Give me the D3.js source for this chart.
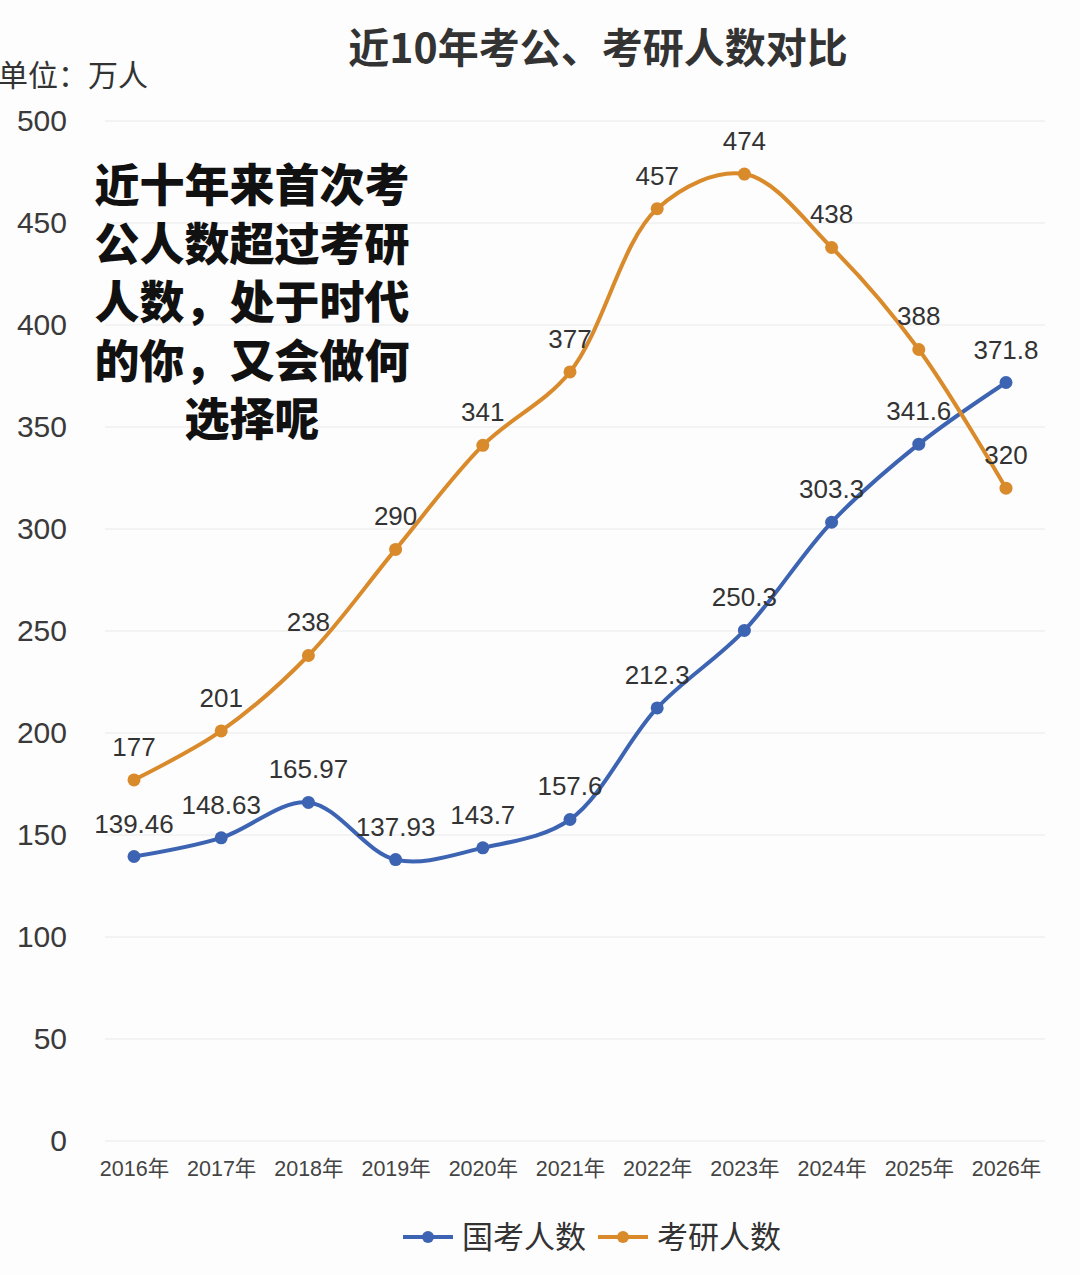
<!DOCTYPE html>
<html>
<head>
<meta charset="utf-8">
<script src="https://cdn.jsdelivr.net/npm/d3@7"></script>
<style>
  body { margin: 0; background: #fdfdfd; }
  svg { display: block; font-family: "Liberation Sans", "Noto Sans CJK SC", sans-serif; }
</style>
</head>
<body>
<svg id="chart" width="1080" height="1275"></svg>
<script>
// years on the x axis
var years = ["2016年", "2017年", "2018年", "2019年", "2020年", "2021年", "2022年", "2023年", "2024年", "2025年", "2026年"];
// 国考人数 (万人)
var guokao = [139.46, 148.63, 165.97, 137.93, 143.7, 157.6, 212.3, 250.3, 303.3, 341.6, 371.8];
// 考研人数 (万人)
var kaoyan = [177, 201, 238, 290, 341, 377, 457, 474, 438, 388, 320];
var yTicks = [0, 50, 100, 150, 200, 250, 300, 350, 400, 450, 500];
var seriesNames = ["国考人数", "考研人数"];
var colors = ["#3d64b2", "#d98a2b"];
var note = ["近十年来首次考", "公人数超过考研", "人数，处于时代", "的你，又会做何", "选择呢"];

var svg = d3.select("#chart");

var x = d3.scalePoint()
        .domain(years)
        .range([134, 1006]);

var y = d3.scaleLinear()
        .domain([0, 500])
        .range([1141, 121]);

// grid lines
svg.append("g")
        .selectAll("line")
        .data(yTicks)
        .enter().append("line")
        .attr("x1", 105)
        .attr("x2", 1045)
        .attr("y1", function(d){ return y(d); })
        .attr("y2", function(d){ return y(d); })
        .style("stroke", "#efefef")
        .style("stroke-width", 1.5);

// y axis labels
var yAxis = d3.axisLeft(y).tickValues(yTicks).tickSize(0).tickPadding(0);
svg.append("g")
        .attr("transform", "translate(67,0)")
        .call(yAxis)
        .call(function(g){ g.select(".domain").remove(); })
        .selectAll("text")
        .style("font-size", "30px")
        .style("fill", "#3a3a3a")
        .style("font-family", "Liberation Sans, sans-serif");

// x axis labels
var xAxis = d3.axisBottom(x).tickSize(0).tickPadding(0);
svg.append("g")
        .attr("transform", "translate(0,1176)")
        .call(xAxis)
        .call(function(g){ g.select(".domain").remove(); })
        .selectAll("text")
        .attr("dy", "0")
        .style("font-size", "21.5px")
        .style("fill", "#444")
        .style("font-family", "Liberation Sans Narrow, Liberation Sans, Noto Sans CJK SC, sans-serif");

var line = d3.line()
        .x(function(d, i){ return x(years[i]); })
        .y(function(d){ return y(d); })
        .curve(d3.curveCatmullRom.alpha(0.5));

[guokao, kaoyan].forEach(function(values, s){
    var g = svg.append("g");
    g.append("path")
            .attr("d", line(values))
            .style("fill", "none")
            .style("stroke", colors[s])
            .style("stroke-width", 4);
    g.selectAll("circle")
            .data(values)
            .enter().append("circle")
            .attr("cx", function(d, i){ return x(years[i]); })
            .attr("cy", function(d){ return y(d); })
            .attr("r", 6.5)
            .style("fill", colors[s]);
    g.selectAll("text")
            .data(values)
            .enter().append("text")
            .attr("x", function(d, i){ return x(years[i]); })
            .attr("y", function(d){ return y(d) - 24; })
            .attr("text-anchor", "middle")
            .style("font-size", "26px")
            .style("fill", "#333")
            .text(function(d){ return d; });
});

// title
svg.append("text")
        .attr("x", 598)
        .attr("y", 63)
        .attr("text-anchor", "middle")
        .style("font-family", "Noto Sans CJK SC, sans-serif")
        .style("font-weight", "bold")
        .style("font-size", "41px")
        .style("fill", "#333")
        .text("近10年考公、考研人数对比");

// unit
svg.append("text")
        .attr("x", -2)
        .attr("y", 86)
        .style("font-family", "Noto Sans CJK SC, sans-serif")
        .style("font-size", "30px")
        .style("fill", "#333")
        .text("单位：万人");

// annotation
svg.append("g")
        .selectAll("text")
        .data(note)
        .enter().append("text")
        .attr("x", 252)
        .attr("y", function(d, i){ return 202 + i * 58.5; })
        .attr("text-anchor", "middle")
        .style("font-family", "Noto Sans CJK SC, sans-serif")
        .style("font-weight", "900")
        .style("font-size", "45px")
        .style("fill", "#111")
        .text(function(d){ return d; });

// legend
var legend = svg.append("g");
var legendX = [403, 598];
seriesNames.forEach(function(name, s){
    var lx = legendX[s];
    legend.append("line")
            .attr("x1", lx).attr("x2", lx + 50)
            .attr("y1", 1237).attr("y2", 1237)
            .style("stroke", colors[s])
            .style("stroke-width", 4);
    legend.append("circle")
            .attr("cx", lx + 25).attr("cy", 1237).attr("r", 6)
            .style("fill", colors[s]);
    legend.append("text")
            .attr("x", lx + 59)
            .attr("y", 1248)
            .style("font-family", "Noto Sans CJK SC, sans-serif")
            .style("font-size", "31px")
            .style("fill", "#333")
            .text(name);
});
</script>
</body>
</html>
